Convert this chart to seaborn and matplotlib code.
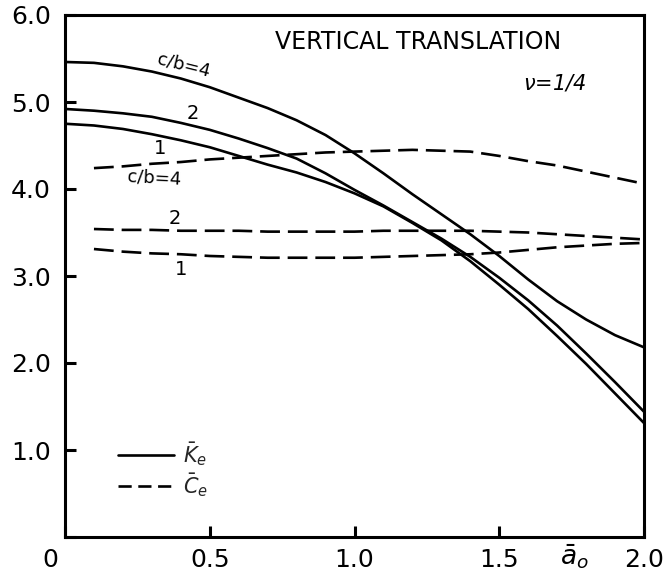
import numpy as np
import pandas as pd
import matplotlib
matplotlib.use("Agg")
import matplotlib.pyplot as plt
import matplotlib.transforms as mtransforms
from matplotlib.lines import Line2D
import seaborn as sns

# ---- data ----
x_k = [0.0, 0.1, 0.2, 0.3, 0.4, 0.5, 0.6, 0.7, 0.8, 0.9, 1.0,
       1.1, 1.2, 1.3, 1.4, 1.5, 1.6, 1.7, 1.8, 1.9, 2.0]
k_cb4 = [5.46, 5.45, 5.41, 5.35, 5.27, 5.17, 5.05, 4.93, 4.79, 4.62, 4.41,
         4.18, 3.94, 3.71, 3.48, 3.23, 2.96, 2.71, 2.50, 2.32, 2.18]
k_cb2 = [4.92, 4.90, 4.87, 4.83, 4.76, 4.68, 4.58, 4.47, 4.35, 4.18, 3.99,
         3.81, 3.62, 3.43, 3.22, 2.98, 2.72, 2.43, 2.11, 1.78, 1.44]
k_cb1 = [4.75, 4.73, 4.69, 4.63, 4.56, 4.48, 4.38, 4.28, 4.19, 4.08, 3.95,
         3.80, 3.61, 3.41, 3.17, 2.90, 2.62, 2.31, 1.99, 1.65, 1.31]

x_c = [0.1, 0.2, 0.3, 0.4, 0.5, 0.6, 0.7, 0.8, 0.9, 1.0,
       1.1, 1.2, 1.3, 1.4, 1.5, 1.6, 1.7, 1.8, 1.9, 2.0]
c_cb4 = [4.24, 4.26, 4.29, 4.31, 4.34, 4.36, 4.38, 4.40, 4.42, 4.43,
         4.44, 4.45, 4.44, 4.43, 4.38, 4.32, 4.27, 4.20, 4.13, 4.06]
c_cb2 = [3.54, 3.53, 3.53, 3.52, 3.52, 3.52, 3.51, 3.51, 3.51, 3.51,
         3.52, 3.52, 3.52, 3.52, 3.51, 3.50, 3.48, 3.46, 3.44, 3.42]
c_cb1 = [3.31, 3.28, 3.26, 3.25, 3.23, 3.22, 3.21, 3.21, 3.21, 3.21,
         3.22, 3.23, 3.24, 3.25, 3.27, 3.30, 3.33, 3.35, 3.37, 3.38]

x_ticks = [0, 0.5, 1.0, 1.5, 2.0]
x_ticklabels = ["0", "0.5", "1.0", "1.5", "2.0"]
y_ticks = [0, 1, 2, 3, 4, 5, 6]
y_ticklabels = ["", "1.0", "2.0", "3.0", "4.0", "5.0", "6.0"]

frames = []
for name, xs, ys, kind in [("K4", x_k, k_cb4, "K"), ("K2", x_k, k_cb2, "K"),
                           ("K1", x_k, k_cb1, "K"), ("C4", x_c, c_cb4, "C"),
                           ("C2", x_c, c_cb2, "C"), ("C1", x_c, c_cb1, "C")]:
    frames.append(pd.DataFrame({"a0": xs, "val": ys, "series": name, "kind": kind}))
df = pd.concat(frames, ignore_index=True)

sns.set_theme(style="white")
plt.rcParams["font.family"] = ["DejaVu Sans"]
plt.rcParams["mathtext.fontset"] = "dejavusans"

fig = plt.figure(figsize=(6.68, 5.74), dpi=100)
ax = fig.add_axes([65 / 668, 37 / 574, 579 / 668, 522 / 574])

LW = 1.9
DASH = (7.5, 3.0)
sns.lineplot(data=df, x="a0", y="val", units="series", estimator=None,
             style="kind", dashes={"K": "", "C": DASH}, color="black",
             linewidth=LW, legend=False, ax=ax, sort=False)

ax.set_xlim(0, 2.0)
ax.set_ylim(0, 6.0)
ax.set_xticks(x_ticks)
ax.set_xticklabels(x_ticklabels)
ax.set_yticks(y_ticks)
ax.set_yticklabels(y_ticklabels)
ax.set_xlabel("")
ax.set_ylabel("")
for s in ax.spines.values():
    s.set_linewidth(2.2)
    s.set_color("black")
    s.set_visible(True)
ax.tick_params(axis="both", which="major", direction="in", length=8,
               width=2.2, color="black", labelcolor="black", labelsize=18,
               bottom=True, left=True, top=False, right=False)
ax.tick_params(axis="x", pad=8)
ax.tick_params(axis="y", pad=10)

# "0" label sits left of the origin
lbl0 = ax.get_xticklabels()[0]
lbl0.set_transform(lbl0.get_transform() +
                   mtransforms.ScaledTranslation(-0.15, 0, fig.dpi_scale_trans))

# annotations
ax.text(1.22, 5.69, "VERTICAL TRANSLATION", fontsize=17, ha="center",
        va="center", color="black")
ax.text(1.69, 5.22, r"$\nu$=1/4", fontsize=15, ha="center", va="center",
        color="black", style="italic")
ax.text(0.41, 5.42, "c/b=4", fontsize=13, ha="center", va="center",
        rotation=-14, color="black")
ax.text(0.44, 4.87, "2", fontsize=14, ha="center", va="center", color="black")
ax.text(0.33, 4.47, "1", fontsize=14, ha="center", va="center", color="black")
ax.text(0.31, 4.13, "c/b=4", fontsize=13, ha="center", va="center",
        rotation=-3, color="black")
ax.text(0.38, 3.66, "2", fontsize=14, ha="center", va="center", color="black")
ax.text(0.40, 3.07, "1", fontsize=14, ha="center", va="center", color="black")
ax.text(1.76, -0.23, r"$\bar{a}_o$", fontsize=19, ha="center", va="center",
        color="black", clip_on=False)

handles = [Line2D([], [], color="black", linewidth=LW),
           Line2D([], [], color="black", linewidth=LW, dashes=(5.0, 2.5))]
leg = ax.legend(handles, [r"$\bar{K}_e$", r"$\bar{C}_e$"], loc="upper left",
                bbox_to_anchor=(0.0915, 0.185), frameon=False, fontsize=15,
                handlelength=2.7, handletextpad=0.4, labelspacing=0.12,
                borderpad=0, borderaxespad=0)

fig.savefig("out.png", dpi=100)
